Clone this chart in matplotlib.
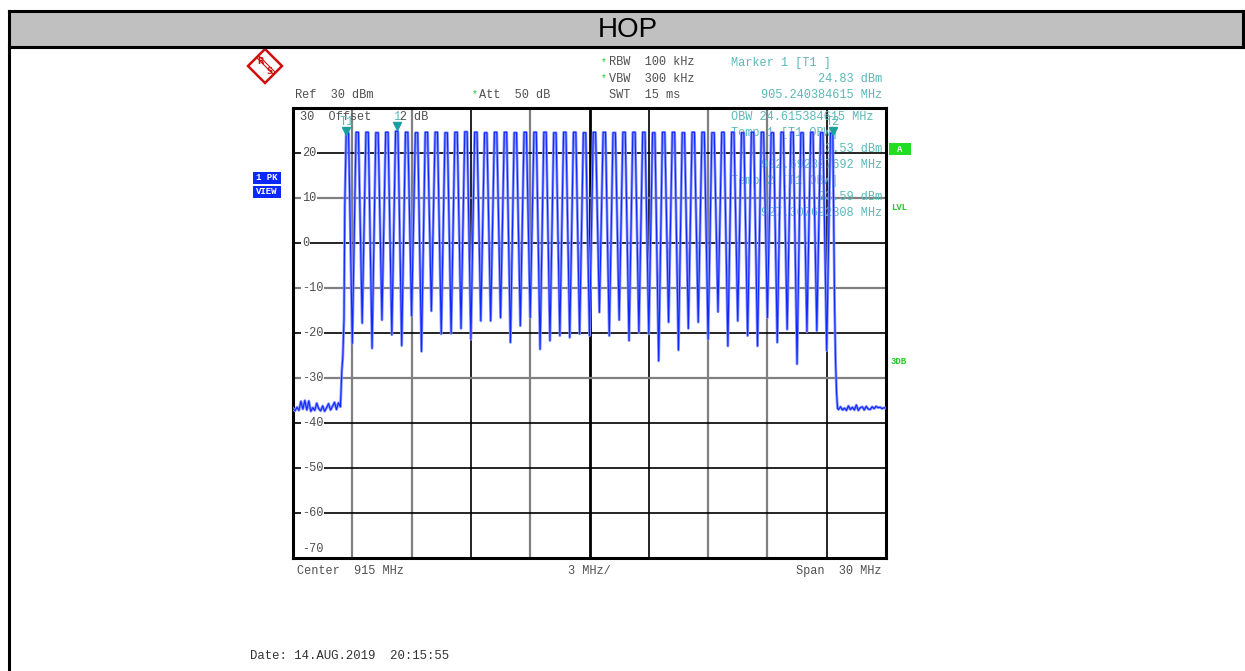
import matplotlib
matplotlib.use("Agg")
import matplotlib.pyplot as plt
from matplotlib.patches import Rectangle, Polygon
import matplotlib.transforms as mtransforms

# ---------------- data ----------------
channel_freqs = [902.75, 903.25, 903.75, 904.25, 904.75, 905.25, 905.75, 906.25, 906.75, 907.25,
                 907.75, 908.25, 908.75, 909.25, 909.75, 910.25, 910.75, 911.25, 911.75, 912.25,
                 912.75, 913.25, 913.75, 914.25, 914.75, 915.25, 915.75, 916.25, 916.75, 917.25,
                 917.75, 918.25, 918.75, 919.25, 919.75, 920.25, 920.75, 921.25, 921.75, 922.25,
                 922.75, 923.25, 923.75, 924.25, 924.75, 925.25, 925.75, 926.25, 926.75, 927.25]
peak_levels = [24.5, 24.6, 24.6, 24.5, 24.6, 24.83, 24.6, 24.5, 24.6, 24.6,
               24.5, 24.6, 24.7, 24.6, 24.5, 24.6, 24.6, 24.5, 24.6, 24.6,
               24.6, 24.5, 24.6, 24.6, 24.5, 24.6, 24.6, 24.5, 24.6, 24.6,
               24.6, 24.5, 24.6, 24.6, 24.5, 24.6, 24.6, 24.5, 24.6, 24.6,
               24.5, 24.6, 24.6, 24.5, 24.6, 24.6, 24.5, 24.6, 24.5, 24.4]
dip_freqs = [903.0, 903.5, 904.0, 904.5, 905.0, 905.5, 906.0, 906.5, 907.0, 907.5,
             908.0, 908.5, 909.0, 909.5, 910.0, 910.5, 911.0, 911.5, 912.0, 912.5,
             913.0, 913.5, 914.0, 914.5, 915.0, 915.5, 916.0, 916.5, 917.0, 917.5,
             918.0, 918.5, 919.0, 919.5, 920.0, 920.5, 921.0, 921.5, 922.0, 922.5,
             923.0, 923.5, 924.0, 924.5, 925.0, 925.5, 926.0, 926.5, 927.0]
dip_levels = [-22.3, -17.8, -23.4, -17.1, -20.4, -22.8, -16.2, -24.1, -15.1, -20.2,
              -20.1, -19.0, -21.4, -17.3, -17.3, -16.6, -22.1, -18.4, -16.6, -23.6,
              -21.7, -20.6, -21.0, -20.2, -20.6, -15.4, -20.6, -17.1, -21.7, -19.9,
              -20.2, -26.2, -17.6, -23.8, -19.0, -17.6, -21.4, -15.3, -22.9, -17.3,
              -20.6, -22.9, -16.6, -22.1, -19.2, -26.9, -19.7, -19.5, -23.9]
noise_left_freqs = [900.0, 900.1, 900.2, 900.3, 900.4, 900.5, 900.6, 900.7, 900.8, 900.9,
                    901.0, 901.1, 901.2, 901.3, 901.4, 901.5, 901.6, 901.7, 901.8, 901.9,
                    902.0, 902.1, 902.2, 902.3, 902.4]
noise_left_levels = [-36.8, -37.3, -36.5, -37.2, -35.2, -36.9, -35.0, -37.1, -35.1, -37.4,
                     -36.6, -37.2, -35.6, -36.8, -37.3, -36.2, -37.4, -36.6, -35.7, -37.1,
                     -36.3, -35.4, -37.0, -35.5, -36.4]
rise_freqs = [902.47, 902.52, 902.58, 902.62]
rise_levels = [-28.4, -25.3, -17.0, 8.0]
fall_freqs = [927.40, 927.45, 927.50, 927.55]
fall_levels = [-14.2, -26.6, -33.3, -36.8]
noise_right_freqs = [927.6, 927.7, 927.8, 927.9, 928.0, 928.1, 928.2, 928.3, 928.4, 928.5,
                     928.6, 928.7, 928.8, 928.9, 929.0, 929.1, 929.2, 929.3, 929.4, 929.5,
                     929.6, 929.7, 929.8, 929.9, 930.0]
noise_right_levels = [-37.0, -36.4, -37.1, -36.7, -37.2, -36.2, -37.0, -36.5, -37.1, -36.0,
                      -37.2, -36.6, -36.4, -37.1, -36.3, -36.9, -37.0, -36.4, -36.8, -36.3,
                      -36.6, -36.5, -36.8, -36.6, -36.7]

y_ticks = [20, 10, 0, -10, -20, -30, -40, -50, -60]
marker_freqs = [902.692307692, 905.240384615, 927.307692308]
marker_levels = [23.53, 24.83, 23.59]
marker_names = ["T1", "1", "T2"]

# ---------------- build trace vertices ----------------
fx, fy = [], []
fx += noise_left_freqs; fy += noise_left_levels
fx += rise_freqs; fy += rise_levels
half_top = 0.06
for i, (c, p) in enumerate(zip(channel_freqs, peak_levels)):
    fx += [c - half_top, c + half_top]
    fy += [p, p]
    if i < len(dip_freqs):
        fx.append(dip_freqs[i]); fy.append(dip_levels[i])
fx += fall_freqs; fy += fall_levels
fx += noise_right_freqs; fy += noise_right_levels

# ---------------- figure ----------------
W, H = 1245, 671
fig = plt.figure(figsize=(W / 100, H / 100), dpi=100)
fig.patch.set_facecolor("white")

ov = fig.add_axes([0, 0, 1, 1])
ov.set_xlim(0, W)
ov.set_ylim(H, 0)
ov.axis("off")

# header
ov.add_patch(Rectangle((9, 11), 1234, 36, facecolor="#c0c0c0", edgecolor="none"))
ov.plot([9, 1243], [11, 11], color="black", lw=2.2)
ov.plot([9, 1243], [47, 47], color="black", lw=2.2)
ov.plot([9, 9], [11, 671], color="black", lw=2.2)
ov.plot([1243, 1243], [11, 47], color="black", lw=2.2)
ov.text(628, 30, "HOP", ha="center", va="center", fontsize=20,
        family=["Liberation Sans Narrow", "Liberation Sans"], color="black")

# R&S logo
cx, cy, r = 265, 66, 17
ov.add_patch(Polygon([(cx, cy - r), (cx + r, cy), (cx, cy + r), (cx - r, cy)], closed=True,
                     facecolor="white", edgecolor="#d01010", lw=1.8))
ov.plot([cx - 8, cx + 8], [cy - 8, cy + 8], color="#d01010", lw=0.8)
ov.plot([cx - 6, cx + 10], [cy - 10, cy + 6], color="#d01010", lw=0.8)
ov.text(cx - 4, cy - 4, "R", color="#d01010", fontsize=6, ha="center", va="center", fontweight="bold")
ov.text(cx + 4, cy + 5, "S", color="#d01010", fontsize=6, ha="center", va="center", fontweight="bold")

mono = ["Liberation Mono", "DejaVu Sans Mono"]
gray = "#505050"
teal = "#5cb8b8"
green = "#22cc22"
fs = 8.6

def t(x, y, s, color=gray, ha="left", size=fs, **kw):
    ov.text(x, y, s, ha=ha, va="center", fontsize=size, family=mono, color=color, **kw)

t(295, 95, "Ref  30 dBm")
t(472, 94, "*", color=green, size=7)
t(479, 95, "Att  50 dB")
t(601, 62, "*", color=green, size=7)
t(609, 62, "RBW  100 kHz")
t(601, 78, "*", color=green, size=7)
t(609, 79, "VBW  300 kHz")
t(609, 95, "SWT  15 ms")
t(731, 63, "Marker 1 [T1 ]", color=teal)
t(882, 79, "24.83 dBm", color=teal, ha="right")
t(882, 95, "905.240384615 MHz", color=teal, ha="right")
t(297, 571, "Center  915 MHz")
t(568, 571, "3 MHz/")
t(882, 571, "Span  30 MHz", ha="right")
t(250, 656, "Date: 14.AUG.2019  20:15:55", color="#333333", size=8.9)

ov.add_patch(Rectangle((253, 172), 28, 12, facecolor="#0a28ff", edgecolor="none"))
ov.add_patch(Rectangle((253, 186), 28, 12, facecolor="#0a28ff", edgecolor="none"))
t(267, 178, "1 PK", color="white", ha="center", size=6.5, fontweight="bold")
t(267, 192, "VIEW", color="white", ha="center", size=6.5, fontweight="bold")
ov.add_patch(Rectangle((889, 143), 22, 12, facecolor="#22dd22", edgecolor="none"))
t(900, 149, "A", color="white", ha="center", size=6.5, fontweight="bold")
t(891, 207, "LVL", color=green, size=6.5, fontweight="bold")
t(891, 362, "3DB", color=green, size=6.5, fontweight="bold")

# ---------------- plot axes ----------------
x0, x1, y0, y1 = 293, 886, 108, 558
ax = fig.add_axes([x0 / W, 1 - y1 / H, (x1 - x0) / W, (y1 - y0) / H])
ax.set_xlim(900, 930)
ax.set_ylim(-70, 30)
ax.set_xticks([]); ax.set_yticks([])
for s in ax.spines.values():
    s.set_linewidth(2.2)
    s.set_color("black")

vgrid = [903, 906, 909, 912, 915, 918, 921, 924, 927]
vcol = ["#808080", "#808080", "black", "#808080", "black", "black", "#808080", "#808080", "black"]
for v, c in zip(vgrid, vcol):
    ax.axvline(v, color=c, lw=2.0 if v == 915 else (1.6 if c != "black" else 1.2), zorder=1)
hcol = {20: "black", 10: "#808080", 0: "black", -10: "#808080", -20: "black",
        -30: "#808080", -40: "black", -50: "black", -60: "black"}
for v in y_ticks:
    ax.axhline(v, color=hcol[v], lw=1.6 if hcol[v] != "black" else 1.2, zorder=1)

def ti(xpx, ypx, s, color=teal, ha="left"):
    X = 900 + (xpx - x0) / (x1 - x0) * 30
    Y = 30 - (ypx - y0) / (y1 - y0) * 100
    ax.text(X, Y, s, ha=ha, va="center", fontsize=fs, family=mono, color=color, zorder=2)

ti(300, 117, "30  Offset    2 dB", color=gray)
ti(731, 117, "OBW 24.615384615 MHz")
ti(731, 133, "Temp 1 [T1 OBW]")
ti(882, 149, "23.53 dBm", ha="right")
ti(882, 165, "902.692307692 MHz", ha="right")
ti(731, 181, "Temp 2 [T1 OBW]")
ti(882, 197, "23.59 dBm", ha="right")
ti(882, 213, "927.307692308 MHz", ha="right")

for v in y_ticks:
    ax.text(900.45, v, "%d" % v, ha="left", va="center", fontsize=fs, family=mono, color=gray,
            zorder=2, bbox=dict(boxstyle="square,pad=0.1", facecolor="white", edgecolor="none"))
ax.text(900.45, -68, "-70", ha="left", va="center", fontsize=fs, family=mono, color=gray, zorder=2)

# trace
ax.plot(fx, fy, color="#8894ff", lw=2.0, zorder=3)
ax.plot(fx, fy, color="#1028ff", lw=0.8, zorder=4)

# markers
tri_off = {"T1": 6, "1": 5, "T2": 6}
lab_off = {"T1": 15, "1": 14, "T2": 15}
for f, l, n in zip(marker_freqs, marker_levels, marker_names):
    off = mtransforms.offset_copy(ax.transData, fig=fig, x=0, y=tri_off[n], units="dots")
    off_t = mtransforms.offset_copy(ax.transData, fig=fig, x=0, y=lab_off[n], units="dots")
    ax.plot([f], [l], marker="v", color="#1aa0a0", markersize=6,
            transform=off, zorder=5, linestyle="none")
    ax.text(f, l, n, transform=off_t, ha="center", va="center",
            fontsize=fs, family=mono, color=teal, zorder=5)

fig.savefig("out.png", dpi=100, facecolor="white")
